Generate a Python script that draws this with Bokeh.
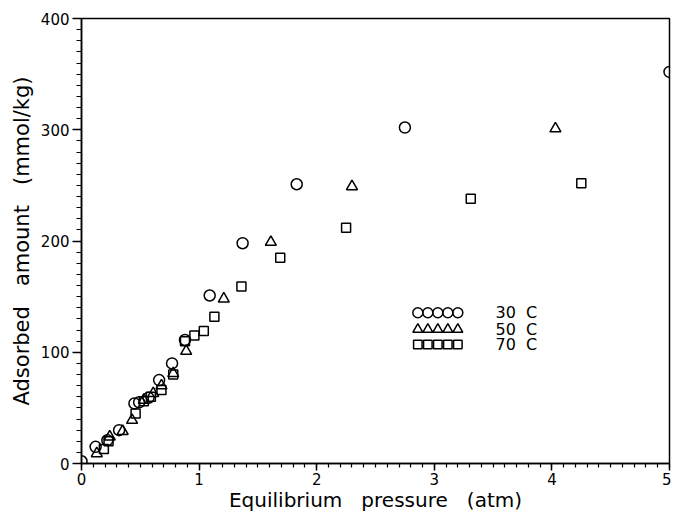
from bokeh.plotting import figure
from bokeh.models import Range1d, Label, FixedTicker
from bokeh.embed import file_html
from bokeh.resources import INLINE

# 30 C
x30 = [0.0, 0.12, 0.22, 0.32, 0.45, 0.49, 0.57, 0.66, 0.77, 0.88, 1.09, 1.37, 1.83, 2.75, 5.0]
y30 = [2, 15, 21, 30, 54, 55, 59, 75, 90, 111, 151, 198, 251, 302, 352]
# 50 C
x50 = [0.13, 0.24, 0.35, 0.43, 0.53, 0.61, 0.68, 0.78, 0.89, 1.21, 1.61, 2.30, 4.03]
y50 = [9, 24, 29, 39, 57, 63, 70, 81, 101, 148, 199, 249, 301]
# 70 C
x70 = [0.19, 0.23, 0.46, 0.53, 0.59, 0.68, 0.78, 0.88, 0.96, 1.04, 1.13, 1.36, 1.69, 2.25, 3.31, 4.25]
y70 = [13, 20, 45, 56, 60, 66, 80, 110, 115, 119, 132, 159, 185, 212, 238, 252]

series_labels = ["30\u00a0\u00a0C", "50\u00a0\u00a0C", "70\u00a0\u00a0C"]
x_ticks = [0, 1, 2, 3, 4, 5]
y_ticks = [0, 100, 200, 300, 400]

FONT = "DejaVu Sans"

p = figure(width=671, height=514, output_backend="svg", toolbar_location=None,
           x_range=Range1d(0, 5), y_range=Range1d(0, 400),
           min_border_left=81, min_border_right=2, min_border_top=18, min_border_bottom=50)
p.background_fill_color = "white"
p.border_fill_color = "white"
p.grid.visible = False
p.outline_line_color = "black"
p.outline_line_width = 1.5

for ax in (p.xaxis[0], p.yaxis[0]):
    ax.axis_line_width = 1.5
    ax.axis_line_color = "black"
    ax.major_tick_line_width = 1.5
    ax.minor_tick_line_width = 1.2
    ax.major_tick_in = 0
    ax.minor_tick_in = 0
    ax.major_label_text_font = FONT
    ax.major_label_text_font_size = "15px"
    ax.major_label_text_color = "black"
    ax.axis_label_text_font = FONT
    ax.axis_label_text_font_style = "normal"
    ax.axis_label_text_color = "black"

p.xaxis.axis_label_text_font_size = "20px"
p.yaxis.axis_label_text_font_size = "21px"
p.xaxis.ticker = FixedTicker(ticks=x_ticks, minor_ticks=[i / 10 for i in range(51)])
p.yaxis.ticker = FixedTicker(ticks=y_ticks, minor_ticks=list(range(0, 401, 10)))
p.xaxis.major_tick_out = 7
p.xaxis.minor_tick_out = 4
p.yaxis.major_tick_out = 9
p.yaxis.minor_tick_out = 5
p.xaxis.major_label_standoff = 2
p.yaxis.major_label_standoff = 3
sp = "\u00a0\u00a0\u00a0"
p.xaxis.axis_label = "Equilibrium" + sp + "pressure" + sp + "(atm)"
p.yaxis.axis_label = "Adsorbed" + sp + "amount" + sp + "(mmol/kg)"
p.xaxis.axis_label_standoff = 0
p.yaxis.axis_label_standoff = 4

p.scatter(x30, y30, marker="circle", size=11, fill_color=None, line_color="black", line_width=1.5)
p.scatter(x50, y50, marker="triangle", size=11, fill_color=None, line_color="black", line_width=1.5)
p.scatter(x70, y70, marker="square", size=9, fill_color=None, line_color="black", line_width=1.5)

# legend: five symbols per row, then label
leg_x = [2.86, 2.945, 3.03, 3.115, 3.20]
leg_y = [135.5, 120.5, 107]
leg_markers = [("circle", 10), ("triangle", 10), ("square", 8.5)]
for (mk, sz), lab, yy in zip(leg_markers, series_labels, leg_y):
    p.scatter(leg_x, [yy] * len(leg_x), marker=mk, size=sz, fill_color=None,
              line_color="black", line_width=1.5)
    p.add_layout(Label(x=3.52, y=yy, text=lab, text_font=FONT, text_font_size="16px",
                       text_baseline="middle", text_align="left", text_color="black"))

open("out.html", "w").write(file_html(p, INLINE))
